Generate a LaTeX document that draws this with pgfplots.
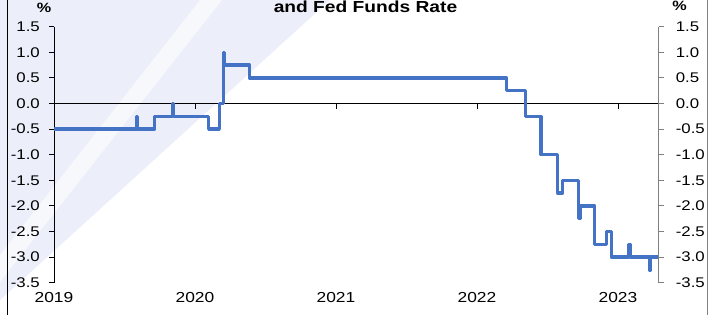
\documentclass[border=0pt]{standalone}
\usepackage{fontspec}
\setmainfont{Liberation Sans}[FakeStretch=1.2]
\usepackage{pgfplots}
\pgfplotsset{compat=1.18}
\definecolor{bgl}{RGB}{236,239,250}
\definecolor{bgs}{RGB}{247,248,252}
\definecolor{ln}{RGB}{68,114,196}
\definecolor{rgray}{RGB}{128,128,128}
\begin{document}
\begin{tikzpicture}
\fill[white] (0pt,0pt) rectangle (716pt,-315pt);
\fill[bgl] (0pt,0pt) -- (330pt,0pt) -- (0pt,-300pt) -- cycle;
\fill[bgs] (0pt,-255pt) -- (200pt,0pt) -- (222pt,0pt) -- (0pt,-282pt) -- cycle;
\draw[black,line width=1pt] (7.3pt,0pt) -- (7.3pt,-315pt);
\draw[rgray,line width=1pt] (707pt,0pt) -- (707pt,-315pt);

\begin{axis}[at={(54pt,-282.7pt)}, anchor=south west, scale only axis,
  width=604.7pt, height=256pt,
  xmin=2019, xmax=2023.289, ymin=-3.5, ymax=1.5,
  clip=false,
  axis x line*=bottom, x axis line style={draw=none},
  xtick={2019,2020,2021,2022,2023}, xticklabels={2019,2020,2021,2022,2023},
  xtick style={draw=none},
  axis y line*=left, y axis line style={black,line width=0.8pt},
  ytick={-3.5,-3,-2.5,-2,-1.5,-1,-0.5,0,0.5,1,1.5},
  tick align=outside, major tick length=5pt,
  ytick style={black,line width=0.8pt},
  yticklabel style={anchor=east, inner sep=0pt, xshift=-9pt, font=\fontsize{14}{16}\selectfont},
  xticklabel style={anchor=north, inner sep=0pt, yshift=-4pt, font=\fontsize{14.5}{16}\selectfont},
  /pgf/number format/.cd, fixed, fixed zerofill, precision=1, assume math mode=true]
\addplot[black, line width=0.6pt] coordinates {(2019,0) (2023.289,0)};
\addplot[black, line width=0.6pt] coordinates {(2020,0) (2020,-0.098)};
\addplot[black, line width=0.6pt] coordinates {(2021,0) (2021,-0.098)};
\addplot[black, line width=0.6pt] coordinates {(2022,0) (2022,-0.098)};
\addplot[black, line width=0.6pt] coordinates {(2023,0) (2023,-0.098)};
\addplot[ln, line width=3.3pt, line join=round] coordinates {
(2019,-0.5)
(2019.585,-0.5)(2019.585,-0.25)(2019.593,-0.25)(2019.593,-0.5)
(2019.713,-0.5)(2019.713,-0.25)
(2019.839,-0.25)(2019.839,0)(2019.847,0)(2019.847,-0.25)
(2020.097,-0.25)(2020.097,-0.5)
(2020.173,-0.5)(2020.173,0)
(2020.201,0)(2020.201,1.0)(2020.211,1.0)(2020.211,0.75)
(2020.386,0.75)(2020.386,0.5)
(2022.210,0.5)(2022.210,0.25)
(2022.343,0.25)(2022.343,-0.25)
(2022.454,-0.25)(2022.454,-1.0)
(2022.573,-1.0)(2022.573,-1.75)
(2022.608,-1.75)(2022.608,-1.5)
(2022.722,-1.5)(2022.722,-2.25)(2022.730,-2.25)(2022.730,-2.0)
(2022.836,-2.0)(2022.836,-2.75)
(2022.921,-2.75)(2022.921,-2.5)
(2022.952,-2.5)(2022.952,-3.0)
(2023.077,-3.0)(2023.077,-2.75)(2023.085,-2.75)(2023.085,-3.0)
(2023.224,-3.0)(2023.224,-3.25)(2023.232,-3.25)(2023.232,-3.0)
(2023.283,-3.0)
};
\end{axis}

\begin{axis}[at={(54pt,-282.7pt)}, anchor=south west, scale only axis,
  width=604.7pt, height=256pt,
  xmin=2019, xmax=2023.289, ymin=-3.5, ymax=1.5,
  axis x line=none,
  axis y line*=right, y axis line style={rgray,line width=0.8pt},
  ytick={-3.5,-3,-2.5,-2,-1.5,-1,-0.5,0,0.5,1,1.5},
  tick align=outside, major tick length=5pt,
  ytick style={rgray,line width=0.8pt},
  yticklabel style={anchor=west, inner sep=0pt, xshift=12pt, font=\fontsize{14}{16}\selectfont},
  /pgf/number format/.cd, fixed, fixed zerofill, precision=1, assume math mode=true]
\addplot[draw=none] coordinates {(2019,0)};
\end{axis}

\node[anchor=base, font=\bfseries\fontsize{16}{18}\selectfont, inner sep=0pt] at (365.5pt,-13pt) {and Fed Funds Rate};
\node[anchor=base, font=\bfseries\fontsize{13.5}{15}\selectfont, inner sep=0pt] at (44pt,-13pt) {\%};
\node[anchor=base, font=\bfseries\fontsize{13.5}{15}\selectfont, inner sep=0pt] at (679.5pt,-11pt) {\%};

\pgfresetboundingbox
\useasboundingbox (0pt,0pt) rectangle (716pt,-315pt);
\end{tikzpicture}
\end{document}
